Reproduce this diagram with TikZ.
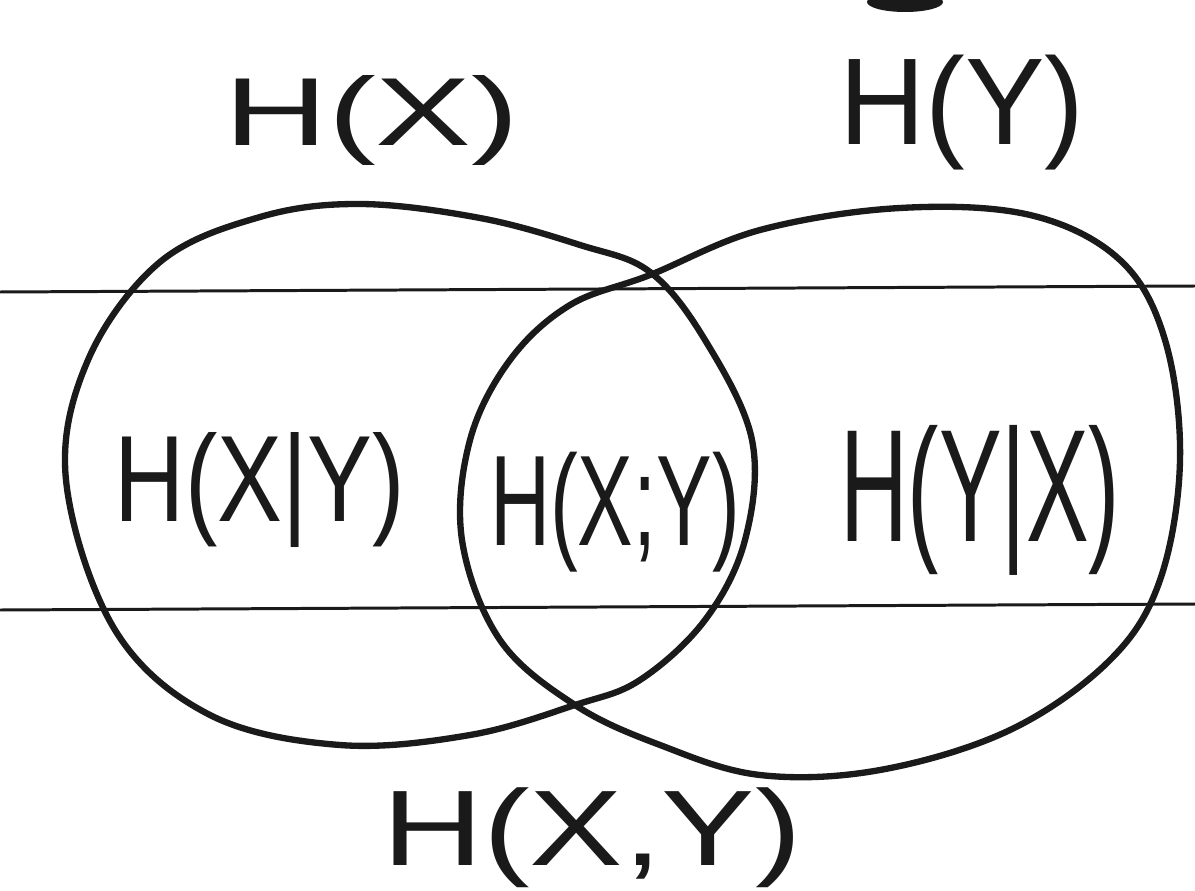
\documentclass[tikz,border=0pt]{standalone}
\usepackage{fontspec}
\setmainfont{Liberation Sans}
\usepackage{graphicx}
\definecolor{ink}{HTML}{1A1A1A}
\tikzset{
  rule/.style={draw=ink, line width=1.7pt},
  setline/.style={draw=ink, line width=3.6pt, line join=round, line cap=round},
  lbl/.style={text=ink, inner sep=0pt}
}
\newcommand{\fitlbl}[3]{\resizebox*{#1}{#2}{#3}}
\begin{document}
\begin{tikzpicture}[x=0.02cm,y=-0.02cm]
\useasboundingbox (0,0) rectangle (1195,891);
\fill[white] (0,0) rectangle (1195,891);
\begin{scope}
\clip (0,0) rectangle (1195,891);
% stray pen mark at the top
\fill[ink] (905,2) ellipse [x radius=38, y radius=10];
\end{scope}
% ruled lines
\draw[rule] (0,292) -- (1195,286);
\draw[rule] (0,610) -- (1195,604);
% set X
\draw[setline] plot[smooth cycle, tension=0.6] coordinates {
 (650,272) (705,340) (752,440) (745,540) (705,620) (640,680) (575,705)
 (470,735) (340,745) (210,715) (115,630) (66,480) (88,360) (160,262)
 (260,217) (360,204) (480,218) (580,245)};
% set Y
\draw[setline] plot[smooth cycle, tension=0.6] coordinates {
 (650,275) (760,230) (900,208) (1030,215) (1120,260) (1165,340) (1180,460)
 (1160,580) (1110,660) (1010,730) (880,770) (760,775) (660,745) (575,705)
 (500,640) (462,540) (470,440) (510,360) (570,305)};
% labels
\node[lbl] (hx) at (372,120) {\fitlbl{5.9cm}{1.8cm}{H(X)}};
\node[lbl] (hy) at (962,113) {\fitlbl{4.9cm}{2.3cm}{H(Y)}};
\node[lbl] (hxy) at (260,490) {\fitlbl{5.8cm}{2.3cm}{H(X|Y)}};
\node[lbl] (ixy) at (615,512) {\fitlbl{5.0cm}{2.4cm}{H(X;Y)}};
\node[lbl] (hyx) at (980,500) {\fitlbl{5.6cm}{3.0cm}{H(Y|X)}};
\node[lbl] (hjoint) at (592,838) {\fitlbl{8.4cm}{2.0cm}{H(X,Y)}};
\end{tikzpicture}
\end{document}
